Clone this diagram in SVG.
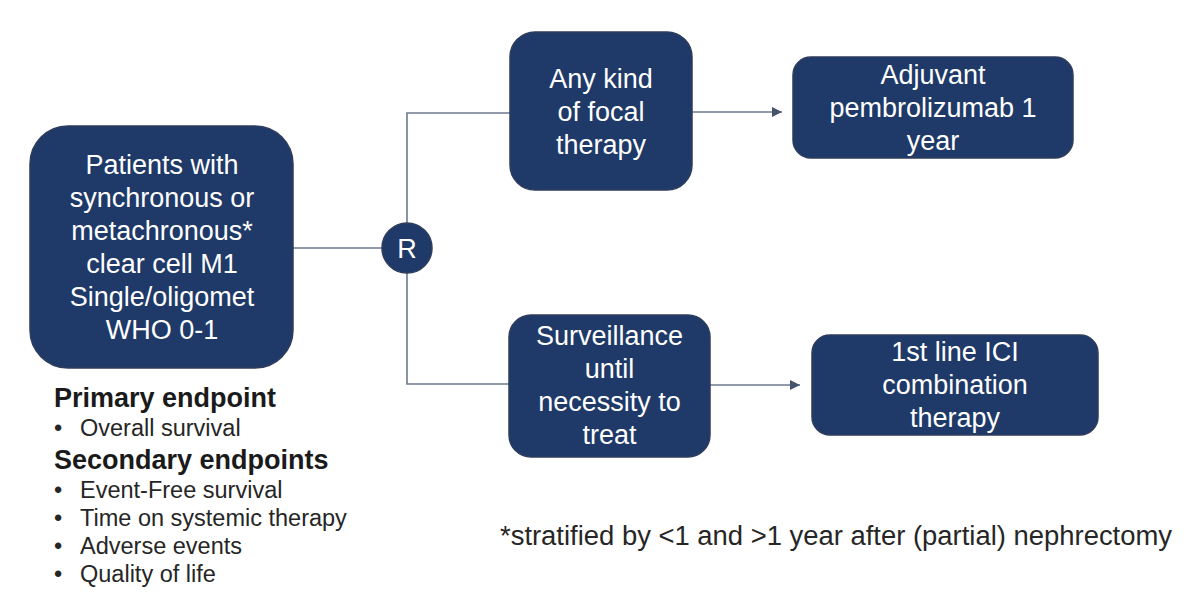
<svg xmlns="http://www.w3.org/2000/svg" width="1200" height="595" viewBox="0 0 1200 595">
  <defs>
    <marker id="arrow" viewBox="0 0 10 10" refX="10" refY="5" markerWidth="10" markerHeight="10" markerUnits="userSpaceOnUse" orient="auto">
      <path d="M0,0 L10,5 L0,10 z" fill="#44546a"/>
    </marker>
    <style>
      .node { fill: #1f3a68; stroke: #2e3d5c; stroke-width: 1.5; }
      .nt { font-family: "Liberation Sans", Arial, sans-serif; font-size: 27px; fill: #ffffff; text-anchor: middle; }
      .conn { fill: none; stroke: #6c7a90; stroke-width: 1.6; }
      .head { font-family: "Liberation Sans", Arial, sans-serif; font-size: 27px; font-weight: bold; fill: #1a1a1a; }
      .item { font-family: "Liberation Sans", Arial, sans-serif; font-size: 23.5px; fill: #262626; }
      .foot { font-family: "Liberation Sans", Arial, sans-serif; font-size: 27px; fill: #262626; }
    </style>
  </defs>
  <rect width="1200" height="595" fill="#ffffff"/>

  <g id="connectors">
    <line class="conn" x1="293" y1="248" x2="382" y2="248"/>
    <polyline class="conn" points="510,113 407,113 407,223"/>
    <polyline class="conn" points="407,273 407,384 510,384"/>
    <line class="conn" x1="692" y1="112" x2="782" y2="112" marker-end="url(#arrow)"/>
    <line class="conn" x1="710" y1="385" x2="800" y2="385" marker-end="url(#arrow)"/>
  </g>

  <g id="patients">
    <rect class="node" x="30" y="126" width="263" height="242" rx="38" ry="38"/>
    <text class="nt" x="162" y="174">Patients with</text>
    <text class="nt" x="162" y="207">synchronous or</text>
    <text class="nt" x="162" y="240">metachronous*</text>
    <text class="nt" x="162" y="273">clear cell M1</text>
    <text class="nt" x="162" y="306">Single/oligomet</text>
    <text class="nt" x="162" y="339">WHO 0-1</text>
  </g>

  <g id="randomisation">
    <circle class="node" cx="407" cy="248" r="25"/>
    <text class="nt" x="407" y="258">R</text>
  </g>

  <g id="focal-therapy">
    <rect class="node" x="510" y="32" width="182" height="158" rx="25" ry="25"/>
    <text class="nt" x="601" y="88">Any kind</text>
    <text class="nt" x="601" y="121">of focal</text>
    <text class="nt" x="601" y="154">therapy</text>
  </g>

  <g id="adjuvant">
    <rect class="node" x="793" y="57" width="280" height="101" rx="18" ry="18"/>
    <text class="nt" x="933" y="84">Adjuvant</text>
    <text class="nt" x="933" y="117">pembrolizumab 1</text>
    <text class="nt" x="933" y="150">year</text>
  </g>

  <g id="surveillance">
    <rect class="node" x="509" y="315" width="201" height="142" rx="22" ry="22"/>
    <text class="nt" x="609.5" y="345">Surveillance</text>
    <text class="nt" x="609.5" y="378">until</text>
    <text class="nt" x="609.5" y="411">necessity to</text>
    <text class="nt" x="609.5" y="444">treat</text>
  </g>

  <g id="ici">
    <rect class="node" x="812" y="335" width="286" height="100" rx="18" ry="18"/>
    <text class="nt" x="955" y="361">1st line ICI</text>
    <text class="nt" x="955" y="394">combination</text>
    <text class="nt" x="955" y="427">therapy</text>
  </g>

  <g id="endpoints">
    <text class="head" x="54" y="407">Primary endpoint</text>
    <text class="item" x="54" y="436">•</text>
    <text class="item" x="80" y="436">Overall survival</text>
    <text class="head" x="54" y="469">Secondary endpoints</text>
    <text class="item" x="54" y="498">•</text>
    <text class="item" x="80" y="498">Event-Free survival</text>
    <text class="item" x="54" y="526">•</text>
    <text class="item" x="80" y="526">Time on systemic therapy</text>
    <text class="item" x="54" y="554">•</text>
    <text class="item" x="80" y="554">Adverse events</text>
    <text class="item" x="54" y="582">•</text>
    <text class="item" x="80" y="582">Quality of life</text>
  </g>

  <text class="foot" x="500" y="545" textLength="672" lengthAdjust="spacingAndGlyphs">*stratified by &lt;1 and &gt;1 year after (partial) nephrectomy</text>
</svg>
